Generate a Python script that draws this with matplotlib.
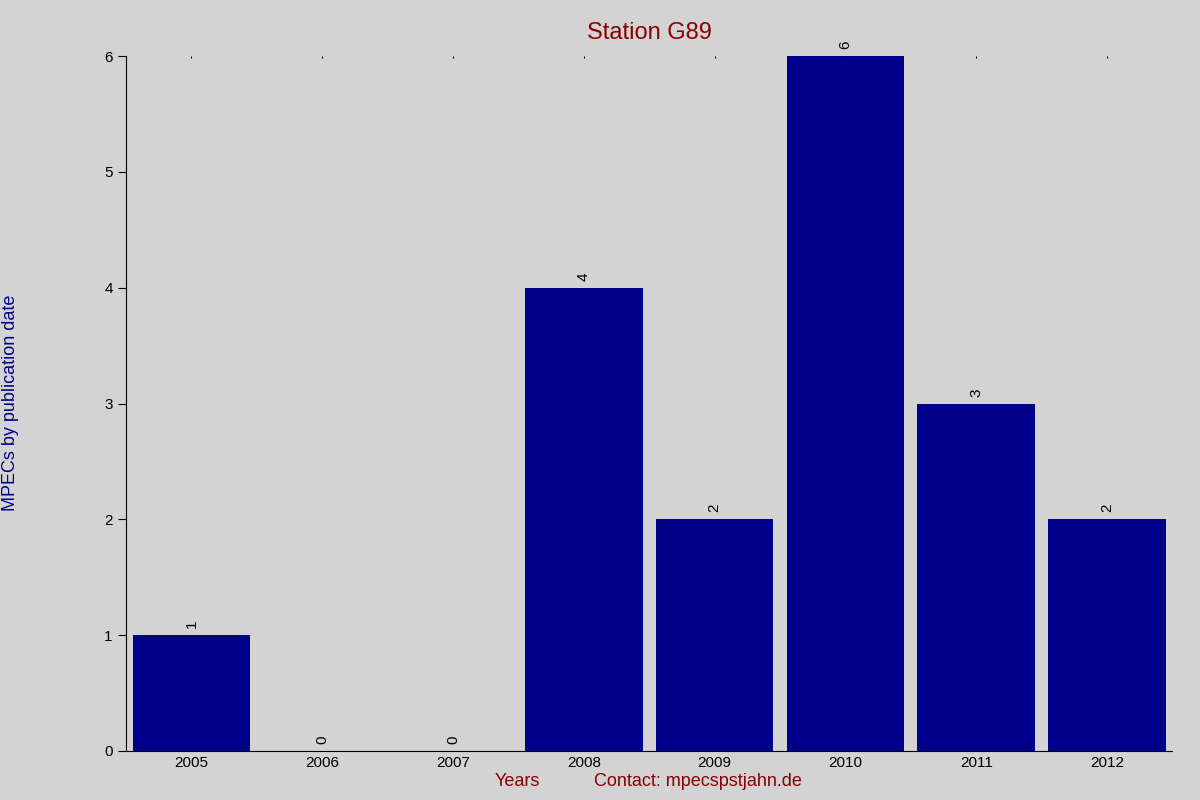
import matplotlib
matplotlib.use("Agg")
import matplotlib.pyplot as plt

years = ["2005", "2006", "2007", "2008", "2009", "2010", "2011", "2012"]
counts = [1, 0, 0, 4, 2, 6, 3, 2]

plt.rcParams['font.family'] = ['Liberation Sans', 'DejaVu Sans']
fig = plt.figure(figsize=(12, 8), dpi=100, facecolor='#d3d3d3')
ax = fig.add_axes([0.105, 0.06125, 0.872, 0.86875], facecolor='#d3d3d3')
x = range(len(years))
ax.bar(x, counts, width=0.9, color='#00008b')
for xi, c in zip(x, counts):
    ax.text(xi, c + 0.06, str(c), rotation=90, ha='center', va='bottom', fontsize=11)
ax.set_xlim(-0.5, 7.5)
ax.set_ylim(0, 6)
ax.set_xticks(list(x))
ax.set_xticklabels(years, fontsize=11)
ax.set_yticks(range(7))
ax.tick_params(axis='y', labelsize=11, length=6, direction='out')
ax.tick_params(axis='x', length=0, top=True, labeltop=False, bottom=False)
ax.tick_params(axis='x', which='major', top=True, length=1.5, direction='in')
for s in ['top', 'right']:
    ax.spines[s].set_visible(False)
ax.set_title("Station G89", color='#8b0000', fontsize=17, pad=12)
fig.text(0.125 * 0 + 0.431, 0.0175, "Years", color='#8b0000', fontsize=13, ha='center')
fig.text(0.582, 0.0175, "Contact: mpecspstjahn.de", color='#8b0000', fontsize=13, ha='center')
fig.text(0.009, 0.496, "MPECs by publication date", color='#00008b', fontsize=13,
         rotation=90, ha='center', va='center')
fig.savefig("out.png", dpi=100, facecolor=fig.get_facecolor())
